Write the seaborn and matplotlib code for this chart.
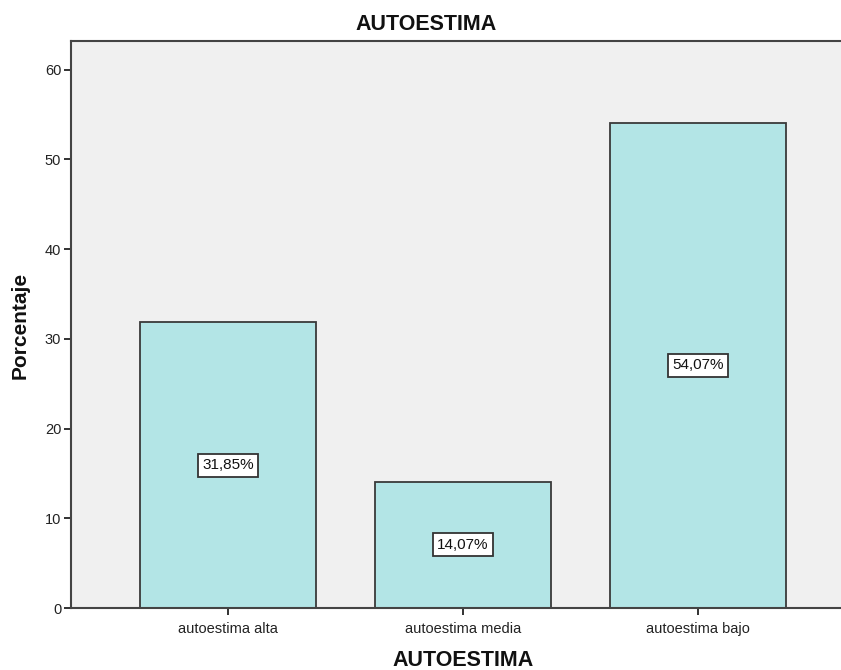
import matplotlib
matplotlib.use("Agg")
import matplotlib.pyplot as plt
import seaborn as sns
import pandas as pd

categories = ["autoestima alta", "autoestima media", "autoestima bajo"]
percentages = [31.85, 14.07, 54.07]
y_ticks = [0, 10, 20, 30, 40, 50, 60]

sns.set_theme(style="white")
plt.rcParams["font.family"] = ["Liberation Sans", "DejaVu Sans"]

df = pd.DataFrame({"cat": categories, "pct": percentages})

W, H = 841, 670
fig = plt.figure(figsize=(W / 100, H / 100), dpi=100)
ax = fig.add_axes([71 / W, 62 / H, 770 / W, 567 / H])
ax.set_facecolor("#F0F0F0")

sns.barplot(data=df, x="cat", y="pct", color="#B3E5E6", saturation=1,
            width=0.75, edgecolor="#3A3A3A", linewidth=1.3, ax=ax)

ax.set_xlim(-0.668, 2.609)
ax.set_ylim(0, 63.2)
ax.set_yticks(y_ticks)
ax.set_yticklabels([str(t) for t in y_ticks], fontsize=10.5, color="#222222")
ax.set_xticks(range(len(categories)))
ax.set_xticklabels(categories, fontsize=10.5, color="#222222")
ax.tick_params(axis="y", direction="out", length=5, width=1.3,
               color="#222222", left=True, pad=2)
ax.tick_params(axis="x", direction="out", length=5, width=1.3,
               color="#222222", bottom=True, pad=5)

for side in ["left", "bottom", "top"]:
    ax.spines[side].set_visible(True)
    ax.spines[side].set_color("#444444")
    ax.spines[side].set_linewidth(1.5)
ax.spines["right"].set_visible(False)

for i, v in enumerate(percentages):
    ax.text(i, v / 2, f"{v:.2f}%".replace(".", ","), ha="center", va="center",
            fontsize=11, color="#111111",
            bbox=dict(boxstyle="square,pad=0.3", facecolor="white",
                      edgecolor="#333333", linewidth=1.3))

ax.set_xlabel("")
ax.set_ylabel("")
fig.text(426 / W, 1 - 24 / H, "AUTOESTIMA", ha="center", va="center",
         fontsize=15.5, fontweight="bold", color="#111111")
fig.text(463 / W, 1 - 660 / H, "AUTOESTIMA", ha="center", va="center",
         fontsize=15.5, fontweight="bold", color="#111111")
fig.text(20 / W, 1 - 325 / H, "Porcentaje", ha="center", va="center",
         rotation=90, fontsize=15, fontweight="bold", color="#111111")

fig.savefig("out.png", dpi=100, facecolor="white")
